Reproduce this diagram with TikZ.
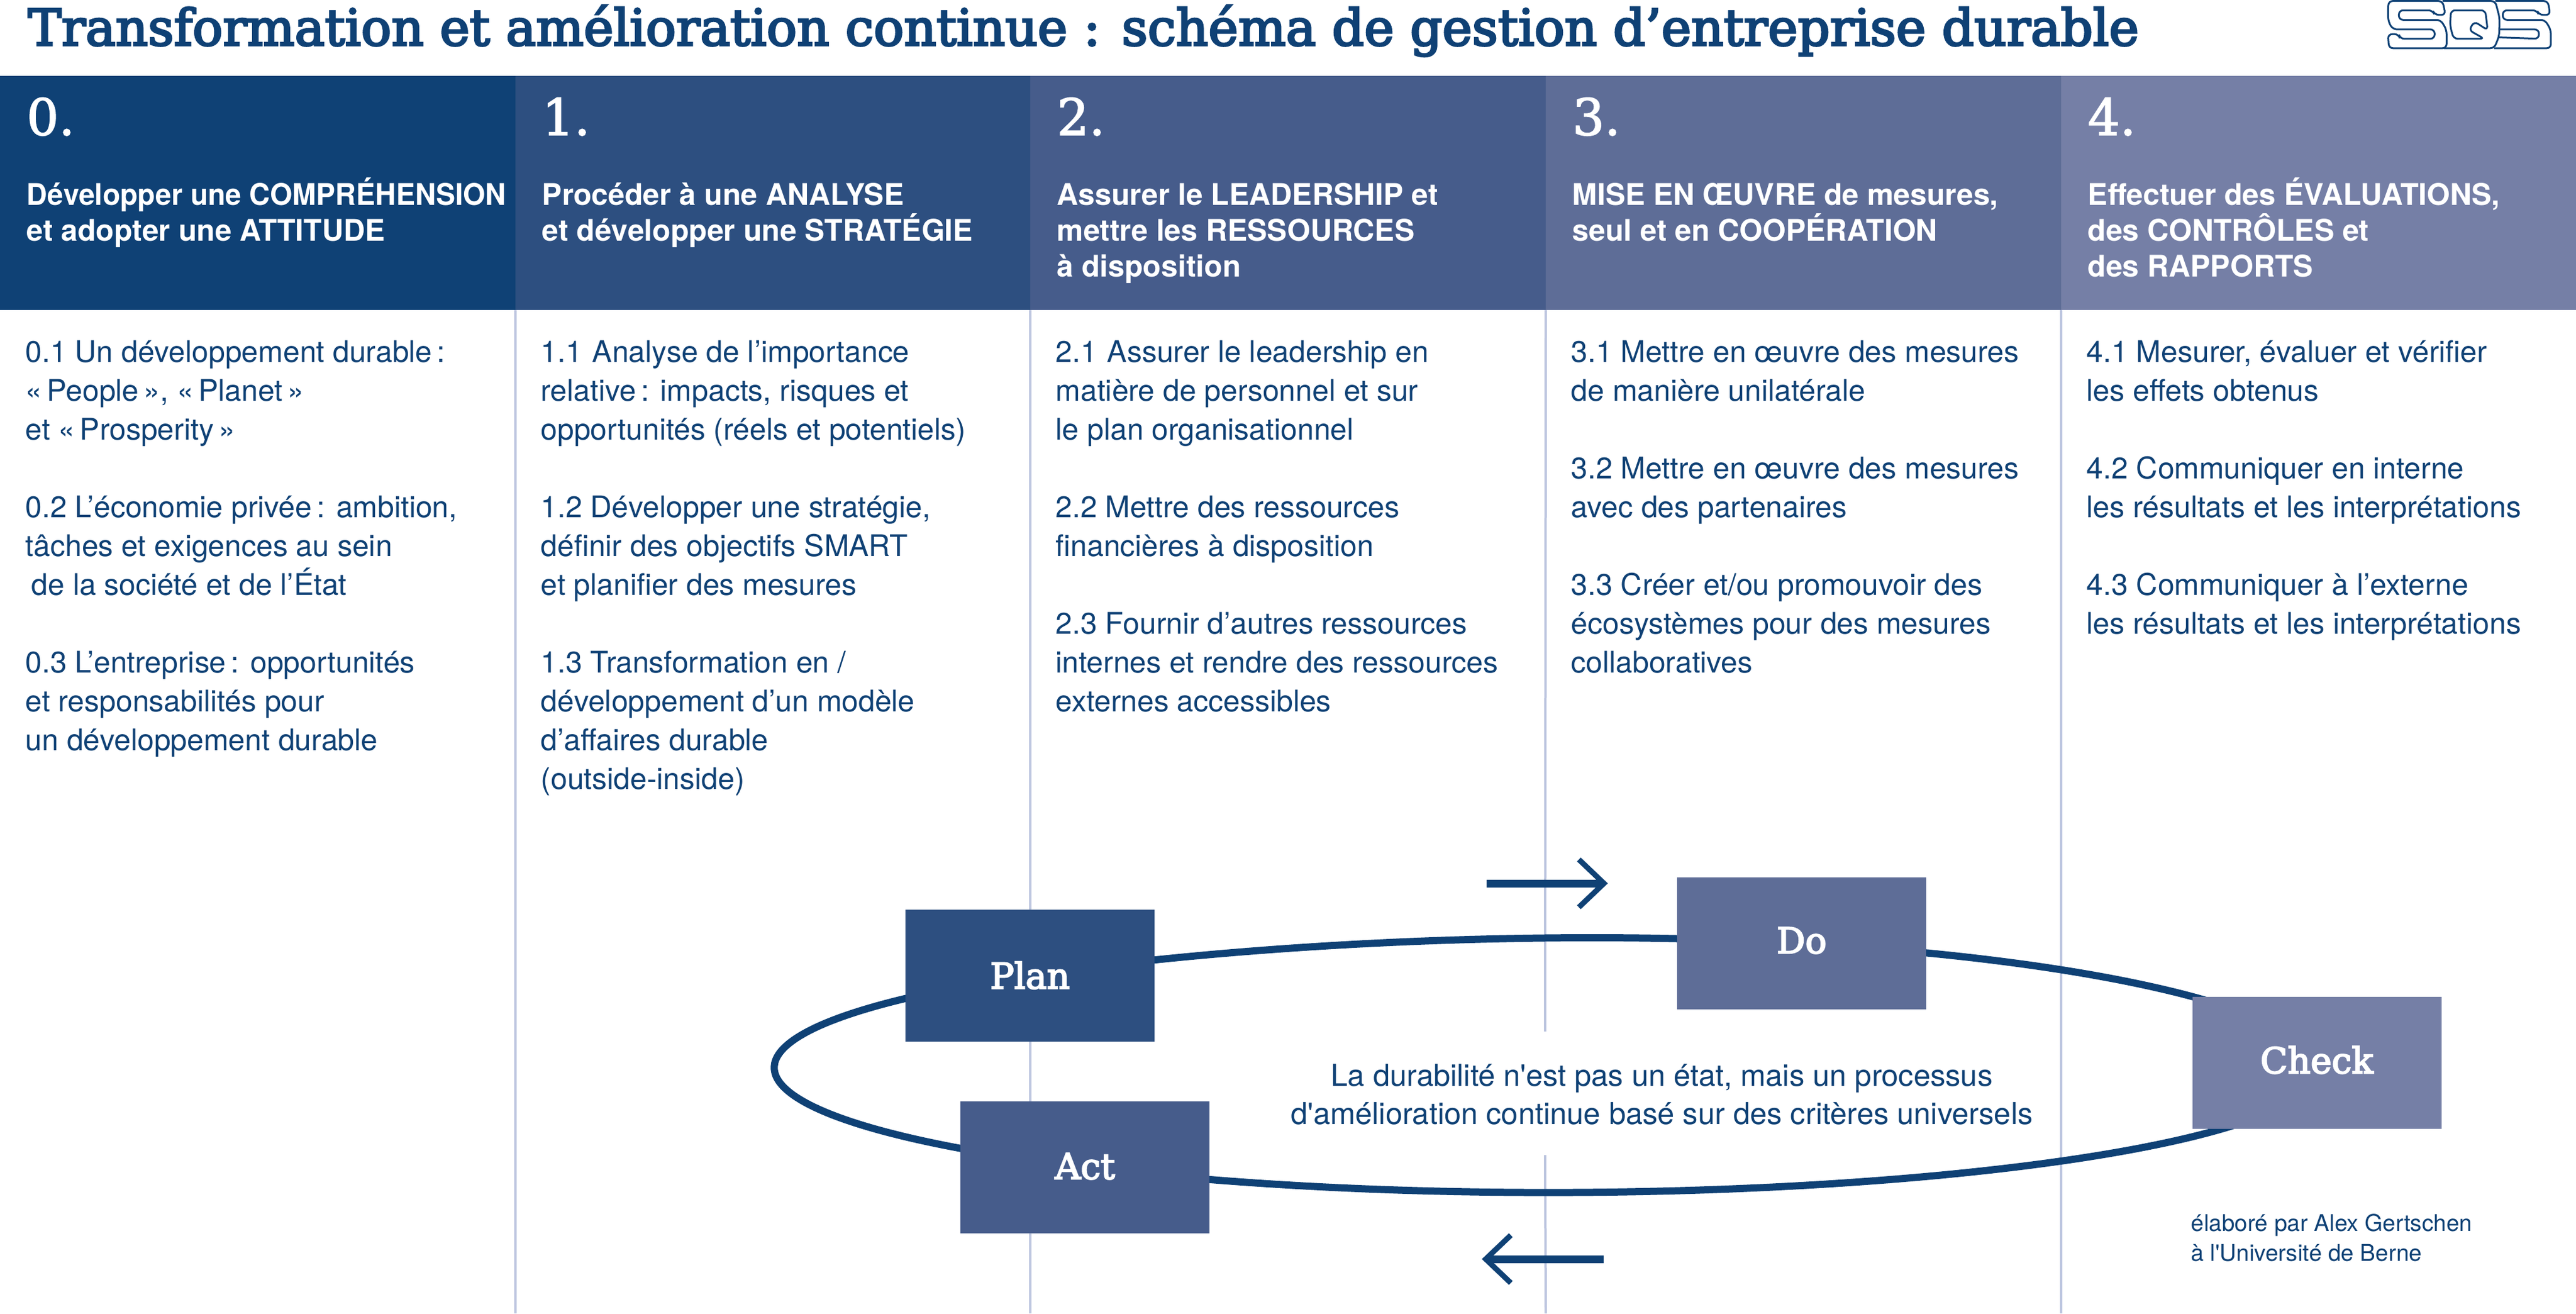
\documentclass[tikz,border=0pt]{standalone}
\usepackage{fontspec}
\usetikzlibrary{calc,positioning,arrows.meta,backgrounds}
\newfontfamily\slabfont{DejaVu Serif}
\newfontfamily\bodyfont{TeX Gyre Heros}
\newcommand{\linetop}{\rule{0pt}{14pt}}
\newcommand{\heavy}[2]{\special{pdf:code q 2 Tr #1 w}#2\special{pdf:code Q}}
\definecolor{sqsblue}{HTML}{0F4175}
\definecolor{col0}{HTML}{0F4175}
\definecolor{col1}{HTML}{2D4F80}
\definecolor{col2}{HTML}{465C8B}
\definecolor{col3}{HTML}{5E6D97}
\definecolor{col4}{HTML}{757FA6}
\definecolor{sepline}{HTML}{BCC5DF}
\begin{document}
\begin{tikzpicture}[>=latex]
\useasboundingbox (0,0) rectangle (43.13,-21.99);

\tikzstyle{headbox}=[minimum width=8.626cm, minimum height=3.92cm, inner sep=0, outer sep=0, anchor=north west]
\tikzstyle{numtxt}=[text=white, anchor=base west, inner sep=0, font=\slabfont\fontsize{24}{24}\selectfont]
\tikzstyle{headtxt}=[text=white, anchor=north west, inner sep=0, align=left, font=\bodyfont\bfseries\fontsize{14.2}{17.1}\selectfont]
\tikzstyle{bodytxt}=[text=sqsblue, anchor=north west, inner sep=0, align=left, font=\bodyfont\fontsize{14.2}{18.5}\selectfont]
\tikzstyle{pdca}=[text=white, minimum width=4.17cm, minimum height=2.21cm, inner sep=0, font=\slabfont\fontsize{17}{17}\selectfont]
\tikzstyle{ring}=[draw=sqsblue, line width=0.12cm]
\tikzstyle{sep}=[draw=sepline, line width=0.04cm]
\tikzstyle{turn}=[draw=sqsblue, line width=0.13cm, -{Straight Barb[length=0.42cm,width=0.8cm,line width=0.09cm]}]

% title and logo
\node(title)[text=sqsblue, anchor=base west, inner sep=0, font=\slabfont\fontsize{24}{24}\selectfont] at (0.46,-0.76) {\heavy{0.9}{Transformation et amélioration continue : schéma de gestion d’entreprise durable}};
\begin{scope}[shift={(39,0)}, x=0.00333cm, y=-0.00333cm, draw=sqsblue, line width=0.03cm, rounded corners=0.07cm]
\draw (295,60) -- (298,5) -- (570,5) -- (585,75) -- (530,75) -- (520,52) -- (350,52) -- (350,100) -- (560,100) -- (590,150) -- (590,243) -- (300,243) -- (295,172) -- (350,172) -- (355,195) -- (530,195) -- (530,148) -- (320,148) -- (297,110) -- cycle;
\draw (570,5) -- (835,5) -- (857,90) -- (855,180) -- (830,243) -- (575,243);
\draw (612,52) -- (785,52) -- (797,152) -- (730,108) -- (703,152) -- (780,195) -- (625,195) -- (608,130) -- cycle;
\draw (835,5) -- (1100,5) -- (1112,75) -- (1055,75) -- (1045,52) -- (873,52) -- (873,100) -- (1085,100) -- (1115,150) -- (1115,243) -- (830,243);
\draw (852,148) -- (1055,148) -- (1055,195) -- (852,188);
\end{scope}

% column heads
\node(head0)[headbox, fill=col0] at (0,-1.27) {};
\node(head1)[headbox, fill=col1] at (8.63,-1.27) {};
\node(head2)[headbox, fill=col2] at (17.25,-1.27) {};
\node(head3)[headbox, fill=col3] at (25.88,-1.27) {};
\node(head4)[headbox, fill=col4] at (34.51,-1.27) {};

\node(num0)[numtxt] at ($(head0.north west)+(0.44,-0.99)$) {\heavy{0.5}{0.}};
\node(num1)[numtxt] at ($(head1.north west)+(0.44,-0.99)$) {\heavy{0.5}{1.}};
\node(num2)[numtxt] at ($(head2.north west)+(0.44,-0.99)$) {\heavy{0.5}{2.}};
\node(num3)[numtxt] at ($(head3.north west)+(0.44,-0.99)$) {\heavy{0.5}{3.}};
\node(num4)[numtxt] at ($(head4.north west)+(0.44,-0.99)$) {\heavy{0.5}{4.}};

\node(headt0)[headtxt] at ($(head0.north west)+(0.44,-1.668)$) {\linetop\scalebox{0.963}[1]{Développer une COMPRÉHENSION}\\et adopter une ATTITUDE};
\node(headt1)[headtxt] at ($(head1.north west)+(0.44,-1.668)$) {\linetop Procéder à une ANALYSE\\et développer une STRATÉGIE};
\node(headt2)[headtxt] at ($(head2.north west)+(0.44,-1.668)$) {\linetop Assurer le LEADERSHIP et\\mettre les RESSOURCES\\à disposition};
\node(headt3)[headtxt] at ($(head3.north west)+(0.44,-1.668)$) {\linetop MISE EN ŒUVRE de mesures,\\seul et en COOPÉRATION};
\node(headt4)[headtxt] at ($(head4.north west)+(0.44,-1.668)$) {\linetop Effectuer des ÉVALUATIONS,\\des CONTRÔLES et\\des RAPPORTS};

% column texts
\node(body0)[bodytxt] at ($(head0.south west)+(0.42,-0.378)$) {\linetop 0.1 Un développement durable\,:\\«\,People\,», «\,Planet\,»\\et «\,Prosperity\,»\\[18.5pt]0.2 L’économie privée\,: ambition,\\tâches et exigences au sein\\\hspace{0.1cm}de la société et de l’État\\[18.5pt]0.3 L’entreprise\,: opportunités\\et responsabilités pour\\un développement durable};
\node(body1)[bodytxt] at ($(head1.south west)+(0.42,-0.378)$) {\linetop 1.1\hspace{0.03cm} Analyse de l’importance\\relative\,: impacts, risques et\\opportunités (réels et potentiels)\\[18.5pt]1.2 Développer une stratégie,\\définir des objectifs SMART\\et planifier des mesures\\[18.5pt]1.3 Transformation en /\\développement d’un modèle\\d’affaires durable\\(outside-inside)};
\node(body2)[bodytxt] at ($(head2.south west)+(0.42,-0.378)$) {\linetop 2.1\hspace{0.03cm} Assurer le leadership en\\matière de personnel et sur\\le plan organisationnel\\[18.5pt]2.2 Mettre des ressources\\financières à disposition\\[18.5pt]2.3 Fournir d’autres ressources\\internes et rendre des ressources\\externes accessibles};
\node(body3)[bodytxt] at ($(head3.south west)+(0.42,-0.378)$) {\linetop 3.1 Mettre en œuvre des mesures\\de manière unilatérale\\[18.5pt]3.2 Mettre en œuvre des mesures\\avec des partenaires\\[18.5pt]3.3 Créer et/ou promouvoir des\\écosystèmes pour des mesures\\collaboratives};
\node(body4)[bodytxt] at ($(head4.south west)+(0.42,-0.378)$) {\linetop 4.1 Mesurer, évaluer et vérifier\\les effets obtenus\\[18.5pt]4.2 Communiquer en interne\\les résultats et les interprétations\\[18.5pt]4.3 Communiquer à l’externe\\les résultats et les interprétations};

% cycle
\node(plan)[pdca, fill=col1] at (17.245,-16.33) {\heavy{0.6}{Plan}};
\node(do)[pdca, fill=col3, text depth=3pt] at (30.165,-15.795) {\heavy{0.6}{Do}};
\node(check)[pdca, fill=col4, text depth=3pt] at (38.79,-17.795) {\heavy{0.6}{Check}};
\node(act)[pdca, fill=col2, text depth=1pt] at (18.165,-19.54) {\heavy{0.6}{Act}};

\node(claim)[text=sqsblue, inner sep=0, align=center, font=\bodyfont\fontsize{14.4}{18.2}\selectfont, anchor=north] at (27.825,-17.69) {\linetop La durabilité n'est pas un état, mais un processus\\d'amélioration continue basé sur des critères universels};
\node(credit)[text=sqsblue, inner sep=0, align=left, font=\bodyfont\fontsize{11}{14.2}\selectfont, anchor=north west] at (36.68,-20.22) {\rule{0pt}{11pt}élaboré par Alex Gertschen\\à l'Université de Berne};

\coordinate(sepbreak1) at (25.87,-17.27);
\coordinate(sepbreak2) at (25.87,-19.34);
\coordinate(turnA) at (24.89,-14.79);
\coordinate(turnB) at (26.92,-14.79);
\coordinate(turnC) at (26.85,-21.08);
\coordinate(turnD) at (24.81,-21.08);

\begin{scope}[on background layer]
\draw[sep] (head1.south west) -- (head1.south west |- 0,-21.99);
\draw[sep] (head2.south west) -- (head2.south west |- 0,-21.99);
\draw[sep] (head3.south west) -- (sepbreak1);
\draw[sep] (sepbreak2) -- (head3.south west |- 0,-21.99);
\draw[sep] (head4.south west) -- (head4.south west |- 0,-21.99);
\draw[ring] (plan.center) .. controls +(3.51,0.512) and +(-4.46,0.252) .. (do.center);
\draw[ring] (do.center) .. controls +(5.02,-0.284) and +(-0.213,0.862) .. (check.center);
\draw[ring] (check.center) .. controls +(0.437,-1.767) and +(8.74,-1.057) .. (act.center);
\draw[ring] (act.center) .. controls +(-6.55,0.792) and +(-6.06,-0.886) .. (plan.center);
\end{scope}

\draw[turn] (turnA) -- (turnB);
\draw[turn] (turnC) -- (turnD);

\end{tikzpicture}
\end{document}
